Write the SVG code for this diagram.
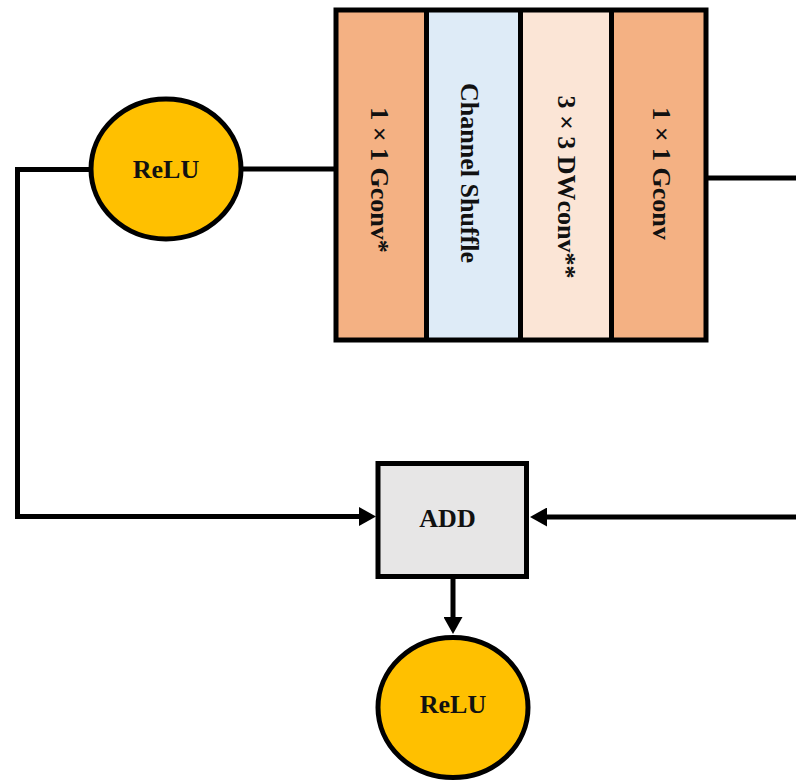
<svg xmlns="http://www.w3.org/2000/svg" width="796" height="780" viewBox="0 0 796 780">
  <style>
    .lbl { font-family: "Liberation Serif", "Times New Roman", serif; font-weight: bold; font-size: 26px; fill: #111111; text-anchor: middle; }
    .edge { fill: none; stroke: #000000; stroke-width: 5; }
    .relu { fill: #FFC000; stroke: #000000; stroke-width: 5; }
    .col { stroke: none; }
  </style>
  <defs>
    <marker id="arrow" markerUnits="userSpaceOnUse" markerWidth="17" markerHeight="19" refX="1" refY="9.5" orient="auto">
      <path d="M0,0 L17,9.5 L0,19 Z" fill="#000000"/>
    </marker>
  </defs>
  <rect width="796" height="780" fill="#FFFFFF"/>

  <g id="connectors">
    <path class="edge" d="M90,169.5 H17.5 V516.5 H360" marker-end="url(#arrow)"/>
    <path class="edge" d="M243,169 H334"/>
    <path class="edge" d="M708,178 H800"/>
    <path class="edge" d="M800,517 H546" marker-end="url(#arrow)"/>
    <path class="edge" d="M453,578 V618" marker-end="url(#arrow)"/>
  </g>

  <g id="relu1">
    <ellipse class="relu" cx="166" cy="169" rx="75" ry="70"/>
    <text class="lbl" x="166" y="177.5">ReLU</text>
  </g>

  <g id="block">
    <g id="gconv1">
      <rect class="col" x="336" y="10" width="91" height="330" fill="#F4B183"/>
      <text class="lbl" transform="translate(371,180) rotate(90)">1 × 1 Gconv*</text>
    </g>
    <g id="shuffle">
      <rect class="col" x="426" y="10" width="95" height="330" fill="#DEEBF7"/>
      <text class="lbl" transform="translate(461,173) rotate(90)">Channel Shuffle</text>
    </g>
    <g id="dwconv">
      <rect class="col" x="520" y="10" width="92" height="330" fill="#FBE5D6"/>
      <text class="lbl" transform="translate(558,187) rotate(90)">3 × 3 DWconv**</text>
    </g>
    <g id="gconv2">
      <rect class="col" x="611" y="10" width="95" height="330" fill="#F4B183"/>
      <text class="lbl" transform="translate(653,173.5) rotate(90)">1 × 1 Gconv</text>
    </g>
    <line class="edge" x1="426.5" y1="10" x2="426.5" y2="340"/>
    <line class="edge" x1="520.5" y1="10" x2="520.5" y2="340"/>
    <line class="edge" x1="611.5" y1="10" x2="611.5" y2="340"/>
    <rect class="edge" x="336" y="10" width="370" height="330"/>
  </g>

  <g id="add">
    <rect x="378" y="463.5" width="148.5" height="113" fill="#E7E6E6" stroke="#000000" stroke-width="5"/>
    <text class="lbl" x="447.5" y="527">ADD</text>
  </g>

  <g id="relu2">
    <ellipse class="relu" cx="453" cy="707.5" rx="75" ry="70"/>
    <text class="lbl" x="453" y="713">ReLU</text>
  </g>
</svg>
